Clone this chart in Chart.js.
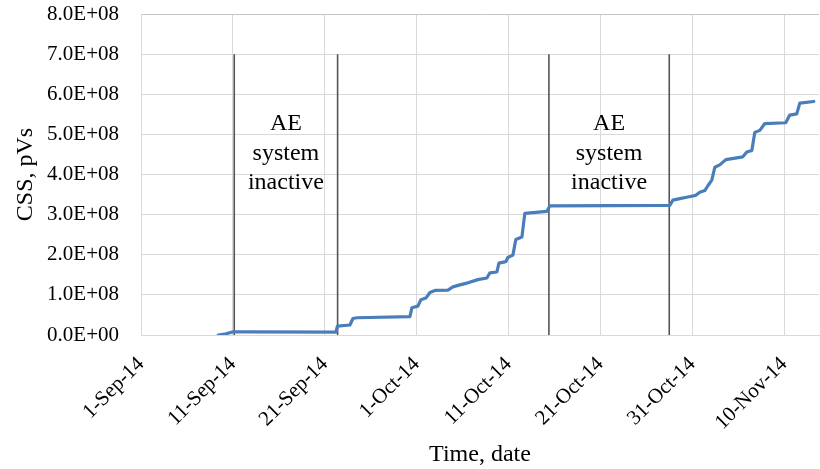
<!DOCTYPE html>
<html><head><meta charset="utf-8">
<script src="https://cdn.jsdelivr.net/npm/chart.js@4/dist/chart.umd.min.js"></script>
<style>html,body{margin:0;padding:0;background:#fff}</style>
</head><body>
<canvas id="c" width="820" height="469"></canvas>
<script>
// Days after 1-Sep-2014
const dayOffsets = [8.41, 9.25, 10.04, 11.86, 21.22, 21.38, 22.74, 23.07, 23.5, 29.27, 29.49, 30.14, 30.47, 31.01, 31.45, 32.0, 33.41, 33.95, 34.71, 35.58, 36.67, 37.65, 37.98, 38.74, 38.96, 39.72, 39.93, 40.48, 40.8, 41.46, 41.78, 44.18, 44.5, 57.56, 57.89, 58.65, 59.52, 60.39, 60.83, 61.37, 61.7, 62.13, 62.46, 63.0, 63.66, 65.51, 65.94, 66.49, 66.81, 67.36, 67.9, 70.18, 70.62, 71.38, 71.71, 73.23];
// CSS, pVs
const cssValues = [0, 0.03e8, 0.08e8, 0.08e8, 0.07e8, 0.22e8, 0.25e8, 0.41e8, 0.43e8, 0.46e8, 0.68e8, 0.72e8, 0.88e8, 0.92e8, 1.06e8, 1.11e8, 1.12e8, 1.2e8, 1.25e8, 1.3e8, 1.38e8, 1.42e8, 1.55e8, 1.57e8, 1.79e8, 1.83e8, 1.93e8, 1.99e8, 2.38e8, 2.44e8, 3.03e8, 3.08e8, 3.22e8, 3.23e8, 3.36e8, 3.4e8, 3.44e8, 3.48e8, 3.56e8, 3.6e8, 3.72e8, 3.86e8, 4.18e8, 4.24e8, 4.37e8, 4.44e8, 4.56e8, 4.6e8, 5.05e8, 5.1e8, 5.27e8, 5.29e8, 5.48e8, 5.51e8, 5.78e8, 5.82e8];
const xTickLabels = ['1-Sep-14', '11-Sep-14', '21-Sep-14', '1-Oct-14', '11-Oct-14', '21-Oct-14', '31-Oct-14', '10-Nov-14'];
// inactive periods [start, end] in days after 1-Sep-2014
const inactiveStarts = [10.15, 44.4];
const inactiveEnds = [21.4, 57.5];
const inactiveLabel = ['AE', 'system', 'inactive'];
const markerTop = 7e8;

const FONT = 'Liberation Serif, Times New Roman, serif';

function fmtExp(v) {
  if (v === 0) return '0.0E+00';
  const e = Math.floor(Math.log10(Math.abs(v)) + 1e-9);
  const m = v / Math.pow(10, e);
  return m.toFixed(1) + 'E' + (e < 0 ? '-' : '+') + String(Math.abs(e)).padStart(2, '0');
}

const datasets = [{
  data: dayOffsets.map((d, i) => ({x: d, y: cssValues[i]})),
  borderColor: '#4a7ebb',
  borderWidth: 3.2,
  pointRadius: 0,
  tension: 0,
  borderJoinStyle: 'round',
  borderCapStyle: 'round'
}];
inactiveStarts.concat(inactiveEnds).forEach(d => {
  datasets.push({
    data: [{x: d, y: 0}, {x: d, y: markerTop}],
    borderColor: '#555555',
    borderWidth: 1.6,
    pointRadius: 0
  });
});

const textPlugin = {
  id: 'inactiveText',
  afterDatasetsDraw(chart) {
    const {ctx, scales: {x, y}} = chart;
    ctx.save();
    ctx.font = '24px ' + FONT;
    ctx.fillStyle = '#000';
    ctx.textAlign = 'center';
    ctx.textBaseline = 'middle';
    const lineH = 29.5;
    const y0 = y.getPixelForValue(markerTop) + 70;
    inactiveStarts.forEach((s, i) => {
      const cx = x.getPixelForValue((s + inactiveEnds[i]) / 2);
      inactiveLabel.forEach((t, k) => ctx.fillText(t, cx, y0 + k * lineH));
    });
    ctx.restore();
  }
};

new Chart(document.getElementById('c'), {
  type: 'line',
  data: {datasets},
  plugins: [textPlugin],
  options: {
    responsive: false,
    animation: false,
    devicePixelRatio: 1,
    layout: {padding: {top: 14, right: 1, left: 0, bottom: 0}},
    plugins: {legend: {display: false}, tooltip: {enabled: false}},
    scales: {
      x: {
        type: 'linear',
        min: 0,
        max: 73.8,
        afterBuildTicks: s => { s.ticks = xTickLabels.map((_, i) => ({value: i * 10})); },
        afterFit: s => { s.height = 134; s.paddingLeft = 0; s.paddingRight = 0; },
        ticks: {
          autoSkip: false,
          maxRotation: 45,
          minRotation: 45,
          padding: 17,
          color: '#000',
          font: {family: FONT, size: 21},
          callback: v => xTickLabels[Math.round(v / 10)]
        },
        grid: {color: '#d9d9d9', drawTicks: false},
        border: {color: '#d9d9d9'},
        title: {display: true, text: 'Time, date', color: '#000', font: {family: FONT, size: 24}, padding: {top: 0, bottom: 0}}
      },
      y: {
        min: 0,
        max: 8e8,
        afterFit: s => { s.width = 141; s.paddingTop = 0; s.paddingBottom = 0; },
        ticks: {
          stepSize: 1e8,
          padding: 22,
          color: '#000',
          font: {family: FONT, size: 21},
          callback: v => fmtExp(v)
        },
        grid: {color: c => (c.tick && c.tick.value === 8e8) ? '#c6c6c6' : '#d9d9d9', drawTicks: false},
        border: {color: '#d9d9d9'},
        title: {display: true, text: 'CSS, pVs', color: '#000', font: {family: FONT, size: 24}, padding: {top: 11, bottom: 0}}
      }
    }
  }
});
</script>
</body></html>
